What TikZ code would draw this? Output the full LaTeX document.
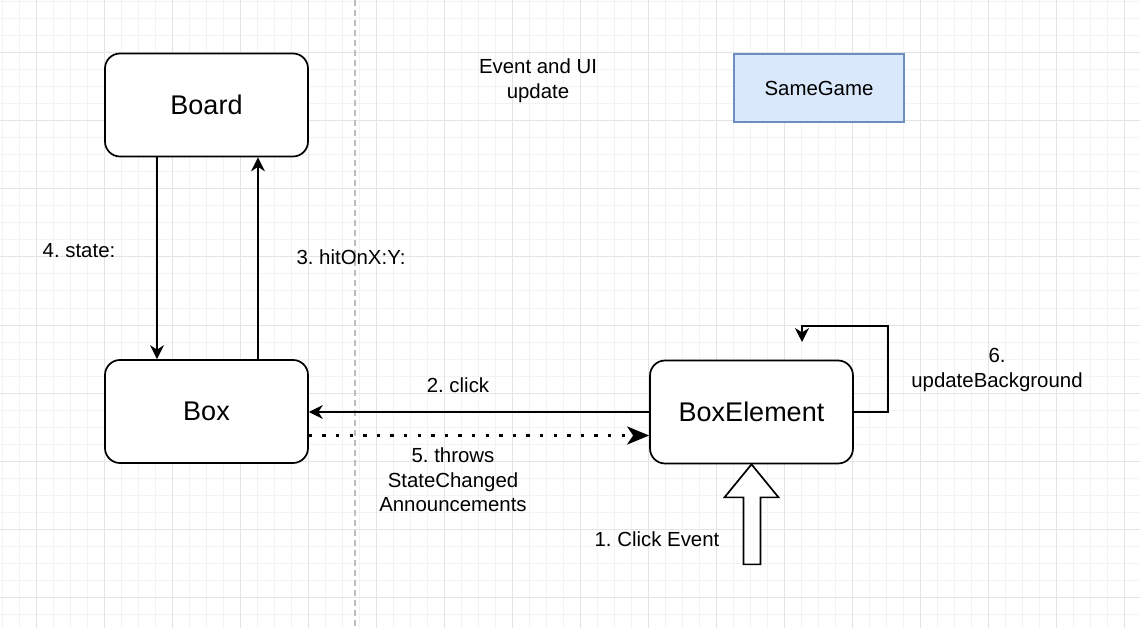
\documentclass[tikz,border=0pt]{standalone}
\usepackage{fontspec}
\setmainfont{Liberation Sans}
\usepackage{tikz}
\usetikzlibrary{positioning,arrows.meta,calc}
\frenchspacing
\definecolor{SGfill}{HTML}{DAE8FC}
\definecolor{SGline}{HTML}{6C8EBF}
\definecolor{GRIDminor}{HTML}{F3F3F3}
\definecolor{GRIDmajor}{HTML}{E4E4E4}
\definecolor{SEPline}{HTML}{BDBDBD}
\tikzset{
  umlbox/.style={draw, rounded corners=15pt, line width=1.7pt, fill=white, minimum width=203pt, minimum height=103pt, font=\fontsize{27}{32}\selectfont},
  lbl/.style={font=\fontsize{20.4}{24.5}\selectfont, align=center, inner sep=0pt},
  msg/.style={-{Stealth[length=14pt, width=14pt, inset=4.5pt]}, line width=1.7pt},
  notify/.style={-{Stealth[length=22pt, width=18pt, inset=6pt]}, line width=3.4pt, dash pattern=on 3.4pt off 10.2pt},
  gridminor/.style={draw=GRIDminor, line width=1pt},
  gridmajor/.style={draw=GRIDmajor, line width=1pt}
}
\begin{document}
\begin{tikzpicture}[x=1pt, y=-1pt]
      \useasboundingbox (0,0) rectangle (1140,628);
      \fill[white] (0,0) rectangle (1140,628);
      % grid
      \foreach \gx in {2,19,...,1140} \draw[gridminor] (\gx,0) -- (\gx,628);
      \foreach \gy in {2,19,...,628} \draw[gridminor] (0,\gy) -- (1140,\gy);
      \foreach \gx in {36,104,...,1140} \draw[gridmajor] (\gx,0) -- (\gx,628);
      \foreach \gy in {53,121,...,628} \draw[gridmajor] (0,\gy) -- (1140,\gy);
      \draw[SEPline, line width=1.3pt, dash pattern=on 6pt off 4pt] (355,0) -- (355,628);
      % boxes
      \node[umlbox] (board) at (206.5,105) {Board};
      \node[umlbox] (box) at (206.5,411.5) {Box};
      \node[umlbox] (be) at (751.5,412) {BoxElement};
      \node[lbl, draw=SGline, fill=SGfill, line width=1.4pt,
            minimum width=170pt, minimum height=68pt] (samegame) at (819,88) {SameGame};
      \node[lbl] (title) at (538,80.5) {Event and UI\\update};
      % messages
      \draw[msg] ([xshift=-49.5pt]board.south) -- ([xshift=-49.5pt]box.north);
      \draw[msg] ([xshift=51.5pt]box.north) -- ([xshift=51.5pt]board.south);
      \draw[msg] (be.west) -- (be.west -| box.east);
      \draw[notify] ([yshift=-24pt]box.east) -- ([yshift=-24pt]box.east -| be.west);
      \coordinate (selfend) at (802,342);
      \draw[msg] (be.east) -- ++(34,0) |- ($(selfend)+(0,-16)$) -- (selfend);
      \draw[line width=1.7pt, fill=white, line join=miter]
            (be.south) -- ++(27,33) -- ++(-18,0) -- ++(0,67) -- ++(-17,0)
            -- ++(0,-67) -- ++(-19,0) -- cycle;
      % labels
      \node[lbl] (lstate) at (79,251) {4. state:};
      \node[lbl] (lhit) at (351,257) {3. hitOnX:Y:};
      \node[lbl] (lclick) at (458,385) {2. click};
      \node[lbl] (lthrows) at (453,480) {5. throws\\StateChanged\\Announcements};
      \node[lbl] (lupdate) at (997,370) {6.\\updateBackground};
      \node[lbl] (levent) at (657,539) {1. Click Event};
    \end{tikzpicture}
\end{document}
